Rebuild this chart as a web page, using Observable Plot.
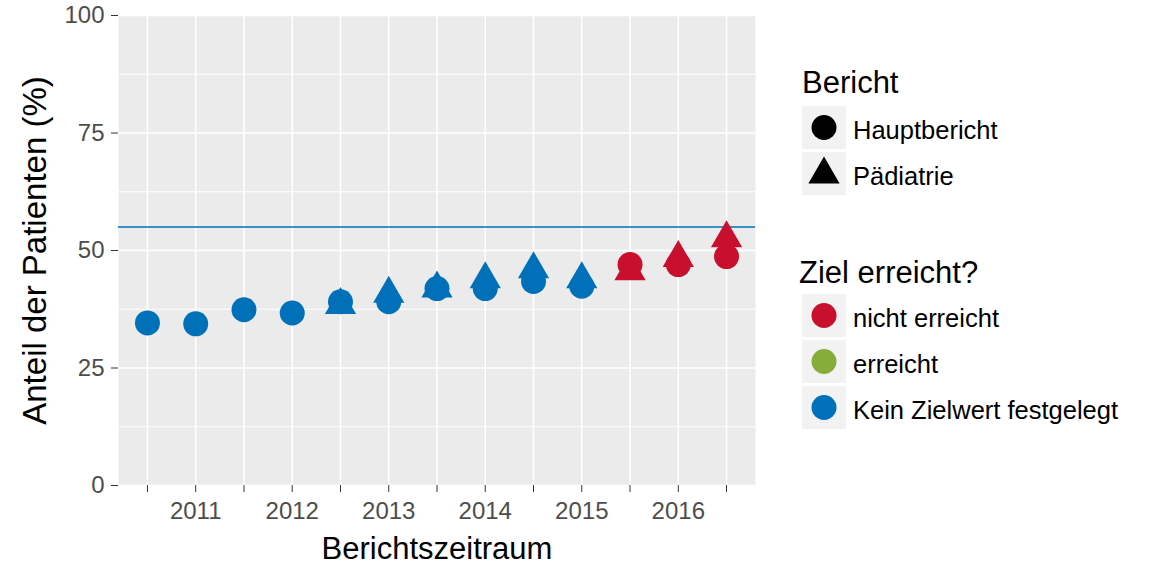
<!DOCTYPE html>
<html>
<head>
<meta charset="utf-8">
<script src="https://cdn.jsdelivr.net/npm/d3@7"></script>
<script src="https://cdn.jsdelivr.net/npm/@observablehq/plot@0.6"></script>
<style>
  html, body { margin: 0; padding: 0; background: white; }
  #wrap { position: relative; width: 1152px; height: 576px; font-family: "Liberation Sans", Arial, sans-serif; }
  .lg { position: absolute; white-space: nowrap; color: #000; line-height: 1; }
</style>
</head>
<body>
<div id="wrap"></div>
<script>
// ---- data ----
const periods = [2010.5, 2011, 2011.5, 2012, 2012.5, 2013, 2013.5, 2014, 2014.5, 2015, 2015.5, 2016, 2016.5];
const tickLabels = ["", "2011", "", "2012", "", "2013", "", "2014", "", "2015", "", "2016", ""];
const hauptValues = [34.6, 34.4, 37.4, 36.7, 39.1, 39.1, 41.9, 41.9, 43.4, 42.4, 47.0, 47.0, 48.7];
const hauptStatus = ["Kein Zielwert festgelegt","Kein Zielwert festgelegt","Kein Zielwert festgelegt","Kein Zielwert festgelegt","Kein Zielwert festgelegt","Kein Zielwert festgelegt","Kein Zielwert festgelegt","Kein Zielwert festgelegt","Kein Zielwert festgelegt","Kein Zielwert festgelegt","nicht erreicht","nicht erreicht","nicht erreicht"];
const paedValues = [null, null, null, null, 38.4, 40.8, 41.9, 43.9, 46.0, 43.9, 45.6, 48.4, 52.6];
const paedStatus = [null, null, null, null, "Kein Zielwert festgelegt","Kein Zielwert festgelegt","Kein Zielwert festgelegt","Kein Zielwert festgelegt","Kein Zielwert festgelegt","Kein Zielwert festgelegt","nicht erreicht","nicht erreicht","nicht erreicht"];
const targetValue = [55];
const yTicks = [0, 25, 50, 75, 100];
const yMinor = [12.5, 37.5, 62.5, 87.5];
const berichtLabels = ["Hauptbericht", "Pädiatrie"];
const berichtSymbols = ["circle", "triangle"];
const zielLabels = ["nicht erreicht", "erreicht", "Kein Zielwert festgelegt"];
const zielColors = ["#c8102e", "#86ad3a", "#0071b9"];

// ---- tables ----
const haupt = periods.map((p, i) => ({period: p, value: hauptValues[i], status: hauptStatus[i]}));
const paed = periods.map((p, i) => ({period: p, value: paedValues[i], status: paedStatus[i]})).filter(d => d.value != null);
const labelOf = new Map(periods.map((p, i) => [p, tickLabels[i]]));
const colorOf = new Map(zielLabels.map((l, i) => [l, zielColors[i]]));

const font = "Liberation Sans, Arial, sans-serif";
const triR = 11.6, circR = 12.5;

const chart = Plot.plot({
  width: 1152,
  height: 576,
  marginLeft: 118,
  marginRight: 397,
  marginTop: 15,
  marginBottom: 91,
  style: {fontFamily: font, background: "white", overflow: "visible"},
  x: {type: "linear", domain: [2010.2, 2016.8]},
  y: {domain: [0, 100]},
  color: {domain: zielLabels, range: zielColors},
  marks: [
    Plot.frame({fill: "#EBEBEB", stroke: null}),
    Plot.gridY(yMinor, {stroke: "white", strokeOpacity: 1, strokeWidth: 1.2}),
    Plot.gridY(yTicks, {stroke: "white", strokeOpacity: 1, strokeWidth: 1.5}),
    Plot.gridX(periods, {stroke: "white", strokeOpacity: 1, strokeWidth: 1.5}),
    Plot.ruleY(targetValue, {stroke: zielColors[2], strokeWidth: 1.6}),
    Plot.dot(paed, {x: "period", y: "value", symbol: "triangle", r: triR, fill: "status", stroke: null}),
    Plot.dot(haupt, {x: "period", y: "value", symbol: "circle", r: circR, fill: "status", stroke: null}),
    Plot.axisY(yTicks, {tickSize: 7, tickPadding: 7, fontSize: 24, fill: "#4D4D4D", stroke: "#333333", label: null}),
    Plot.axisX(periods, {tickSize: 7, tickPadding: 9, fontSize: 24, fill: "#4D4D4D", stroke: "#333333", label: null, tickFormat: d => labelOf.get(d)}),
    Plot.text(["Anteil der Patienten (%)"], {frameAnchor: "left", textAnchor: "middle", lineAnchor: "middle", rotate: -90, dx: -83, fontSize: 33, fill: "black"}),
    Plot.text(["Berichtszeitraum"], {frameAnchor: "bottom", textAnchor: "middle", lineAnchor: "middle", dy: 64, fontSize: 31, fill: "black"})
  ]
});

const wrap = document.getElementById("wrap");
wrap.appendChild(chart);

// ---- legend (HTML, right of the plot) ----
function addTitle(text, left, top) {
  const d = document.createElement("div");
  d.className = "lg";
  d.style.left = left + "px";
  d.style.top = top + "px";
  d.style.fontSize = "31px";
  d.textContent = text;
  wrap.appendChild(d);
}
function addKey(label, symbol, color, top) {
  const box = document.createElement("div");
  box.style.cssText = `position:absolute;left:802px;top:${top}px;width:44px;height:43px;background:#F2F2F2;`;
  const svg = d3.create("svg").attr("width", 44).attr("height", 43);
  if (symbol === "circle") {
    svg.append("circle").attr("cx", 22).attr("cy", 21.5).attr("r", circR).attr("fill", color);
  } else {
    svg.append("path").attr("transform", "translate(22,22.5)")
      .attr("d", d3.symbol(d3.symbolTriangle, Math.PI * triR * triR)()).attr("fill", color);
  }
  box.appendChild(svg.node());
  wrap.appendChild(box);
  const t = document.createElement("div");
  t.className = "lg";
  t.style.left = "853px";
  t.style.top = (top + 11.5) + "px";
  t.style.fontSize = "25.5px";
  t.textContent = label;
  wrap.appendChild(t);
}
addTitle("Bericht", 802, 66.5);
berichtLabels.forEach((l, i) => addKey(l, berichtSymbols[i], "black", 106 + i * 46));
addTitle("Ziel erreicht?", 799, 256.5);
zielLabels.forEach((l, i) => addKey(l, "circle", colorOf.get(l), 294 + i * 46));
</script>
</body>
</html>
